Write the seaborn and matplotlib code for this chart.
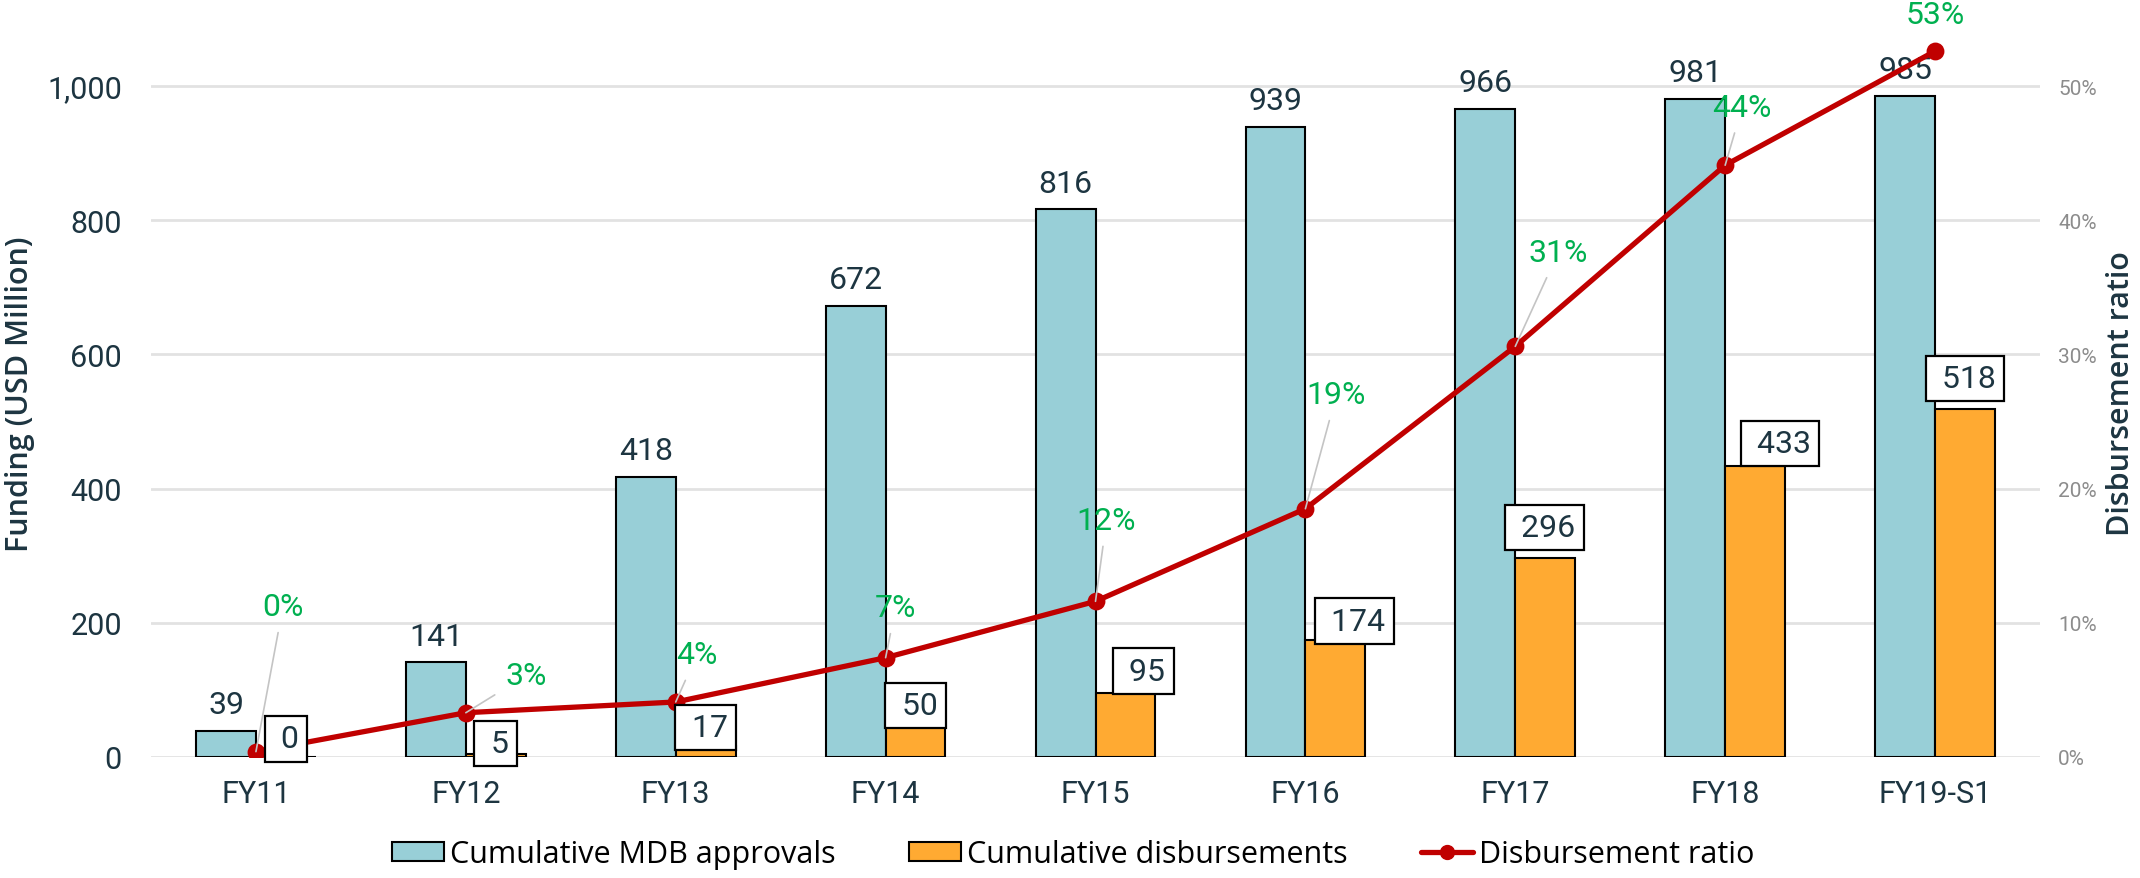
import matplotlib
matplotlib.use("Agg")
import matplotlib.pyplot as plt
from matplotlib.ticker import FuncFormatter, PercentFormatter
from matplotlib.patches import Patch
from matplotlib.lines import Line2D
import pandas as pd
import seaborn as sns

# data
years = ["FY11", "FY12", "FY13", "FY14", "FY15", "FY16", "FY17", "FY18", "FY19-S1"]
approvals = [39, 141, 418, 672, 816, 939, 966, 981, 985]
disbursements = [0, 5, 17, 50, 95, 174, 296, 433, 518]
ratio = [0.004, 0.033, 0.041, 0.074, 0.116, 0.185, 0.306, 0.441, 0.526]
ratio_labels = ["0%", "3%", "4%", "7%", "12%", "19%", "31%", "44%", "53%"]
series_names = ["Cumulative MDB approvals", "Cumulative disbursements", "Disbursement ratio"]

teal = "#98CFD7"
orange = "#FFAA32"
red = "#C00000"
green = "#00B050"
dark = "#1D3541"
grey = "#8C8C8C"

# label nudges in pixels (dx right, dy up), as placed by hand in the original
box_nudge = [(0, 18), (0, 10), (0, 18), (0, 18), (18, 22), (19, 19), (-1, 31), (25, 23), (0, 31)]
pct_nudge = [(27, 145), (60, 37), (21, 47), (10, 50), (11, 81), (31, 114), (43, 94), (17, 58), (0, 37)]
pct_leader = [True] * 8 + [False]

PT = 72 / 100  # pixels -> points at dpi 100

sns.set_theme(style="white")
plt.rcParams["font.family"] = ["Roboto", "DejaVu Sans"]

df = pd.DataFrame({
    "year": years * 2,
    "value": approvals + disbursements,
    "series": [series_names[0]] * len(years) + [series_names[1]] * len(years),
})

fig = plt.figure(figsize=(21.4, 8.79), dpi=100)
ax = fig.add_axes([151 / 2140, 121 / 879, 1889 / 2140, 728 / 879])

sns.barplot(
    data=df, x="year", y="value", hue="series", hue_order=series_names[:2],
    palette=[teal, orange], saturation=1, width=0.57,
    edgecolor="black", linewidth=1.5, ax=ax, legend=False,
)

ax2 = ax.twinx()
sns.pointplot(
    x=years, y=ratio, ax=ax2, color=red, markers="o",
    linewidth=3.8, markersize=10, errorbar=None,
)

# axes
ax.set_xlim(-0.5, 8.5)
ax.set_ylim(0, 1085)
ax2.set_ylim(0, 0.5425)
ax.set_xticks(range(len(years)), years)
ax.set_yticks(range(0, 1001, 200))
ax.yaxis.set_major_formatter(FuncFormatter(lambda v, p: f"{v:,.0f}"))
ax2.set_yticks([0, 0.1, 0.2, 0.3, 0.4, 0.5])
ax2.yaxis.set_major_formatter(PercentFormatter(1, decimals=0))

ax.grid(axis="y", color="#e2e2e2", lw=2)
ax.grid(axis="x", visible=False)
ax.set_axisbelow(True)
ax2.grid(False)
for a in (ax, ax2):
    for s in a.spines.values():
        s.set_visible(False)

ax.tick_params(axis="x", length=0, pad=16, labelsize=22, labelcolor=dark)
ax.tick_params(axis="y", length=0, pad=21, labelsize=22, labelcolor=dark)
ax2.tick_params(axis="y", length=0, pad=13, labelsize=15, labelcolor=grey)

ax.set_xlabel("")
ax.set_ylabel("Funding (USD Million)", fontsize=22, color=dark,
              family=["Open Sans", "DejaVu Sans"], fontweight="semibold")
ax.yaxis.set_label_coords(-0.0614, 0.5)
ax2.set_ylabel("Disbursement ratio", fontsize=22, color=dark,
               family=["Open Sans", "DejaVu Sans"], fontweight="semibold")
ax2.yaxis.set_label_coords(1.0349, 0.5)

# approval values above the teal bars
ax.bar_label(ax.containers[0], labels=[str(v) for v in approvals], padding=8.5,
             fontsize=23, color=dark)

# boxed disbursement values (drawn on ax2 so they sit above the line)
for bar, val, (dx, dy) in zip(ax.containers[1], disbursements, box_nudge):
    x = bar.get_x() + bar.get_width() / 2
    ax2.annotate(
        f" {val}", xy=(x, bar.get_height()), xycoords=ax.transData,
        xytext=(dx * PT, dy * PT), textcoords="offset points",
        ha="center", va="center", fontsize=23, color=dark,
        bbox=dict(boxstyle="square,pad=0.26", fc="white", ec="black", lw=1.6),
        zorder=5,
    )

# ratio labels with leader lines
line = ax2.lines[0]
for x, y, lab, (dx, dy), lead in zip(line.get_xdata(), line.get_ydata(),
                                      ratio_labels, pct_nudge, pct_leader):
    arrow = dict(arrowstyle="-", color="#c4c4c4", lw=1.2, shrinkA=6, shrinkB=0) if lead else None
    ax2.annotate(
        lab, xy=(x, y), xytext=(dx * PT, dy * PT), textcoords="offset points",
        ha="center", va="center", fontsize=23, color=green,
        arrowprops=arrow, zorder=4,
    )

handles = [
    Patch(facecolor=teal, edgecolor="black", lw=1.5),
    Patch(facecolor=orange, edgecolor="black", lw=1.5),
    Line2D([], [], color=red, lw=3.8, marker="o", markersize=10),
]
fig.legend(
    handles, series_names, loc="center", bbox_to_anchor=(0.5014, 0.027),
    ncol=3, frameon=False, prop=dict(family=["Open Sans", "DejaVu Sans"], size=22),
    labelcolor="black", handlelength=1.7, handleheight=0.6,
    handletextpad=0.2, columnspacing=2.4,
)

fig.savefig("out.png", dpi=100)
